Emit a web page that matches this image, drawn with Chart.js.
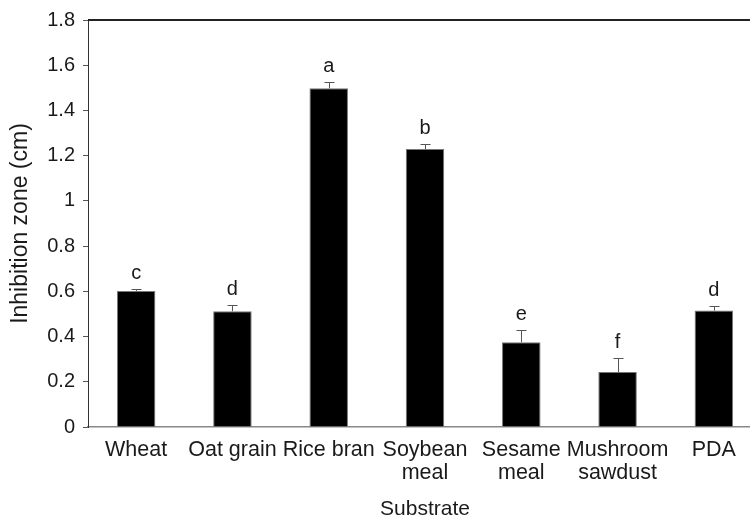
<!DOCTYPE html>
<html>
<head>
<meta charset="utf-8">
<script src="https://cdn.jsdelivr.net/npm/chart.js@4"></script>
<style>
  html, body { margin: 0; padding: 0; background: #fff; overflow: hidden; }
  #wrap { width: 750px; height: 518px; overflow: hidden; position: relative; }
  canvas { display: block; }
</style>
</head>
<body>
<div id="wrap"><canvas id="c" width="762" height="518"></canvas></div>
<script>
// Substrates tested
const categories = ['Wheat', 'Oat grain', 'Rice bran', ['Soybean', 'meal'], ['Sesame', 'meal'], ['Mushroom', 'sawdust'], 'PDA'];
// Mean inhibition zone (cm)
const means = [0.602, 0.512, 1.498, 1.229, 0.375, 0.243, 0.515];
// Standard deviation (upper error bar)
const errors = [0.007, 0.029, 0.029, 0.024, 0.055, 0.064, 0.022];
// Significance groups
const letters = ['c', 'd', 'a', 'b', 'e', 'f', 'd'];
// Y axis range and step
const yMin = 0, yMax = 1.8, yStep = 0.2;

const FONT = '"Liberation Sans", Arial, Helvetica, sans-serif';
const TEXT = '#1a1a1a';

// Error bars, group letters and top frame line
const annotate = {
  id: 'annotate',
  afterDatasetsDraw(chart) {
    const ctx = chart.ctx;
    const meta = chart.getDatasetMeta(0);
    const y = chart.scales.y;
    const area = chart.chartArea;
    ctx.save();
    // top frame line
    ctx.strokeStyle = '#222';
    ctx.lineWidth = 2;
    ctx.beginPath();
    ctx.moveTo(area.left, area.top);
    ctx.lineTo(area.right + 10, area.top);
    ctx.stroke();

    meta.data.forEach((bar, i) => {
      const x = Math.round(bar.x) + 0.5;
      const yBar = y.getPixelForValue(means[i]);
      const yTop = Math.round(y.getPixelForValue(means[i] + errors[i])) + 0.5;
      ctx.strokeStyle = '#555';
      ctx.lineWidth = 1;
      ctx.beginPath();
      ctx.moveTo(x, yBar);
      ctx.lineTo(x, yTop);
      ctx.moveTo(x - 5, yTop);
      ctx.lineTo(x + 5, yTop);
      ctx.stroke();

      ctx.fillStyle = TEXT;
      ctx.font = '20px ' + FONT;
      ctx.textAlign = 'center';
      ctx.textBaseline = 'alphabetic';
      ctx.fillText(letters[i], bar.x, yTop - 11);
    });
    ctx.restore();
  }
};

new Chart(document.getElementById('c'), {
  type: 'bar',
  data: {
    labels: categories,
    datasets: [{
      data: means,
      backgroundColor: '#000',
      borderColor: '#777',
      borderWidth: 1,
      barPercentage: 0.4,
      categoryPercentage: 1.0
    }]
  },
  options: {
    responsive: false,
    animation: false,
    devicePixelRatio: 1,
    layout: { padding: { top: 18, right: 0, bottom: 0, left: 0 } },
    plugins: { legend: { display: false }, tooltip: { enabled: false } },
    scales: {
      x: {
        offset: true,
        grid: { display: false, drawTicks: false },
        border: { display: true, color: '#888', width: 1.5 },
        ticks: {
          color: TEXT,
          padding: 12,
          maxRotation: 0,
          autoSkip: false,
          font: { family: FONT, size: 21.5, lineHeight: 1.07 }
        },
        title: {
          display: true,
          text: 'Substrate',
          color: TEXT,
          font: { family: FONT, size: 21, lineHeight: 0.8 },
          padding: { top: 0, bottom: 0 }
        },
        afterFit(scale) { scale.height = 91; }
      },
      y: {
        min: yMin,
        max: yMax,
        ticks: {
          stepSize: yStep,
          color: TEXT,
          padding: 8,
          font: { family: FONT, size: 20 },
          callback: (v) => String(+v.toFixed(1))
        },
        grid: { drawOnChartArea: false, drawTicks: true, tickLength: 5, color: '#555' },
        border: { display: true, color: '#333', width: 1 },
        title: {
          display: true,
          text: 'Inhibition zone (cm)',
          color: TEXT,
          font: { family: FONT, size: 23, lineHeight: 1.0 },
          padding: { top: 9, bottom: 0 }
        },
        afterFit(scale) { scale.width = 88; }
      }
    }
  },
  plugins: [annotate]
});
</script>
</body>
</html>
